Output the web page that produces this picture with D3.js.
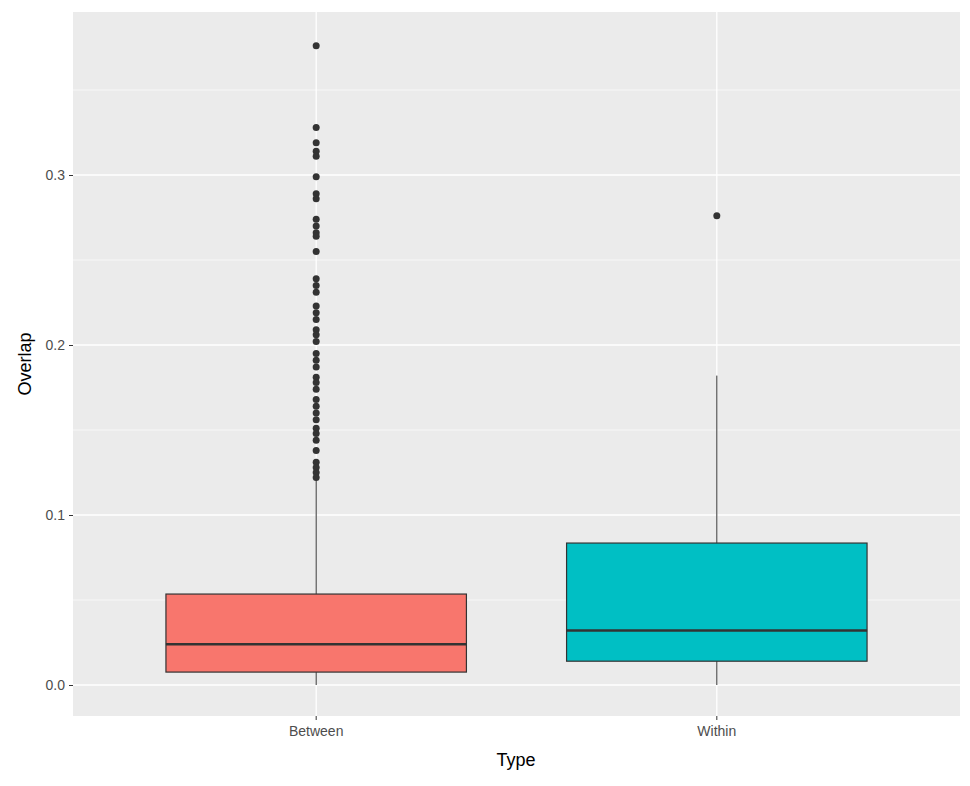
<!DOCTYPE html>
<html><head><meta charset="utf-8">
<script src="https://cdn.jsdelivr.net/npm/d3@7"></script>
<style>body{margin:0;background:#fff}text{font-family:"Liberation Sans",Arial,sans-serif}</style>
</head><body><svg id="viz" width="970" height="786"></svg>
<script>
var types = ["Between", "Within"];
var boxes = [
  {type: "Between", lo: 0.0, q1: 0.0076, med: 0.024, q3: 0.0535, hi: 0.121, fill: "#F8766D"},
  {type: "Within", lo: 0.0, q1: 0.014, med: 0.032, q3: 0.0835, hi: 0.182, fill: "#00BFC4"}
];
var betweenOutliers = [0.376, 0.328, 0.319, 0.314, 0.311, 0.299, 0.289, 0.286, 0.274, 0.270,
  0.266, 0.264, 0.255, 0.239, 0.235, 0.231, 0.223, 0.219, 0.215, 0.209, 0.206, 0.202, 0.195,
  0.191, 0.187, 0.181, 0.178, 0.174, 0.168, 0.164, 0.160, 0.156, 0.151, 0.148, 0.144, 0.138,
  0.131, 0.128, 0.125, 0.122];
var withinOutliers = [0.276];
var yTicks = [0.0, 0.1, 0.2, 0.3];

var svg = d3.select("#viz");
var pLeft = 73, pRight = 960, pTop = 12, pBottom = 716;

var x = d3.scaleBand().domain(types).range([pLeft, pRight]).paddingInner(0.25).paddingOuter(0.232);
var y = d3.scaleLinear().domain([0, 0.1]).range([685, 515]);

svg.append("rect").attr("x", pLeft).attr("y", pTop)
  .attr("width", pRight - pLeft).attr("height", pBottom - pTop).attr("fill", "#EBEBEB");

// minor grid
var minor = [0.05, 0.15, 0.25, 0.35];
svg.selectAll(".minor").data(minor).enter().append("line")
  .attr("x1", pLeft).attr("x2", pRight)
  .attr("y1", d => y(d)).attr("y2", d => y(d))
  .attr("stroke", "#fff").attr("stroke-width", 0.6);
svg.selectAll(".major").data(yTicks).enter().append("line")
  .attr("x1", pLeft).attr("x2", pRight)
  .attr("y1", d => y(d)).attr("y2", d => y(d))
  .attr("stroke", "#fff").attr("stroke-width", 1.3);
svg.selectAll(".vgrid").data(types).enter().append("line")
  .attr("x1", d => x(d) + x.bandwidth() / 2).attr("x2", d => x(d) + x.bandwidth() / 2)
  .attr("y1", pTop).attr("y2", pBottom)
  .attr("stroke", "#fff").attr("stroke-width", 1.3);

// axes
var yAxis = svg.append("g").attr("transform", "translate(" + pLeft + ",0)")
  .call(d3.axisLeft(y).tickValues(yTicks).tickFormat(d3.format(".1f")).tickSize(4).tickPadding(4));
var xAxis = svg.append("g").attr("transform", "translate(0," + pBottom + ")")
  .call(d3.axisBottom(x).tickSize(4).tickPadding(6));
[yAxis, xAxis].forEach(function(a) {
  a.select(".domain").remove();
  a.selectAll(".tick line").attr("stroke", "#333");
  a.selectAll(".tick text").attr("fill", "#4D4D4D").style("font-size", "14px");
});

svg.append("text").attr("x", 516).attr("y", 766).attr("text-anchor", "middle")
  .style("font-size", "18px").attr("fill", "#000").text("Type");
svg.append("text").attr("transform", "translate(31,364) rotate(-90)").attr("text-anchor", "middle")
  .style("font-size", "18px").attr("fill", "#000").text("Overlap");

// boxes
var g = svg.selectAll(".box").data(boxes).enter().append("g");
g.append("line")
  .attr("x1", d => x(d.type) + x.bandwidth() / 2).attr("x2", d => x(d.type) + x.bandwidth() / 2)
  .attr("y1", d => y(d.hi)).attr("y2", d => y(d.lo))
  .attr("stroke", "#333").attr("stroke-width", 1);
g.append("rect")
  .attr("x", d => x(d.type)).attr("width", x.bandwidth())
  .attr("y", d => y(d.q3)).attr("height", d => y(d.q1) - y(d.q3))
  .attr("fill", d => d.fill).attr("stroke", "#333").attr("stroke-width", 1.2);
g.append("line")
  .attr("x1", d => x(d.type)).attr("x2", d => x(d.type) + x.bandwidth())
  .attr("y1", d => y(d.med)).attr("y2", d => y(d.med))
  .attr("stroke", "#333").attr("stroke-width", 2.5);

var pts = betweenOutliers.map(v => ({type: "Between", v: v}))
  .concat(withinOutliers.map(v => ({type: "Within", v: v})));
svg.selectAll(".out").data(pts).enter().append("circle")
  .attr("cx", d => x(d.type) + x.bandwidth() / 2).attr("cy", d => y(d.v))
  .attr("r", 3.5).attr("fill", "#333");
</script></body></html>
